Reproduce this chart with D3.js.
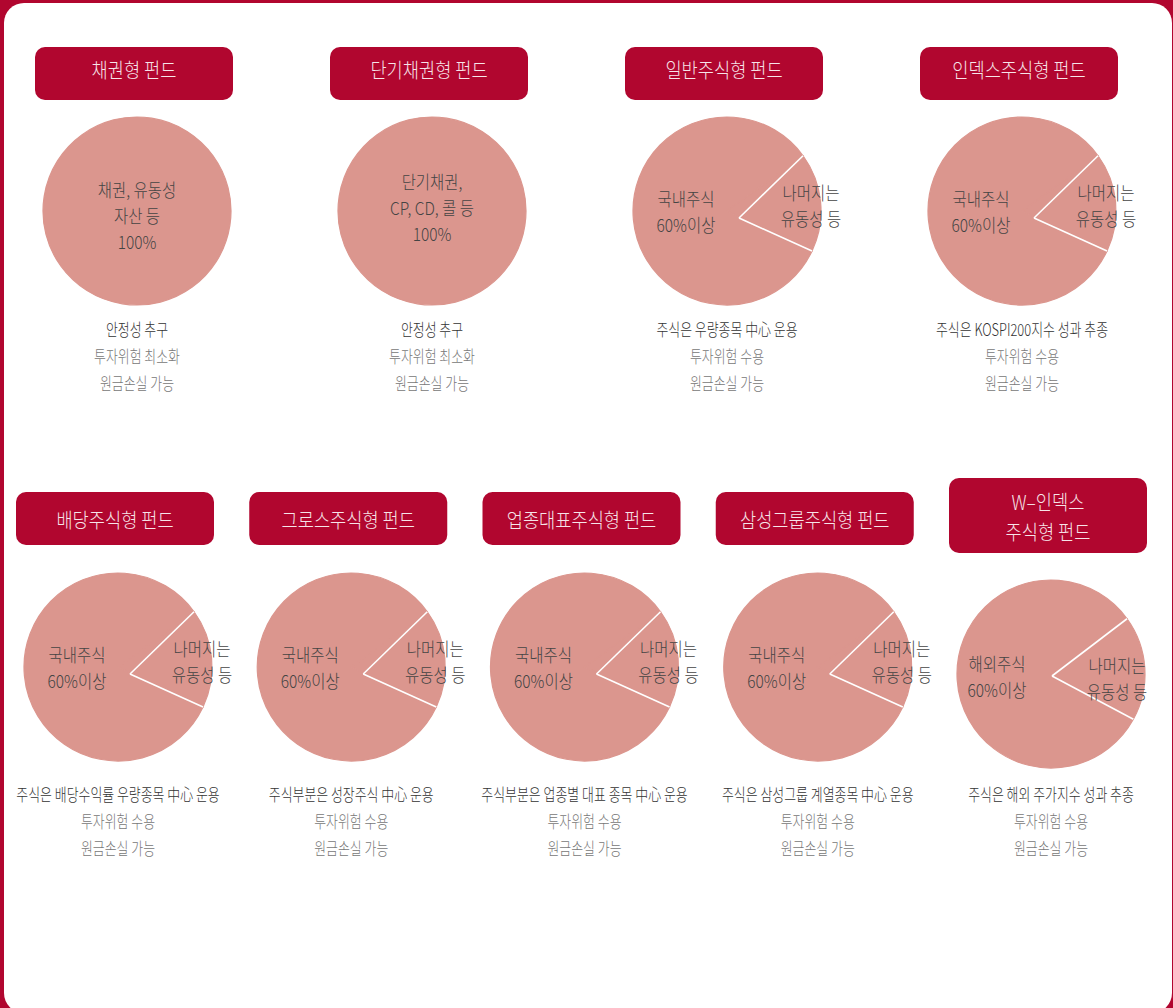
<!DOCTYPE html>
<html>
<head>
<meta charset="utf-8">
<script src="https://cdn.jsdelivr.net/npm/d3@7"></script>
<style>
  html, body { margin: 0; padding: 0; background: #b1062f; }
  svg { display: block; }
  text { font-family: "Noto Sans CJK KR", "Noto Sans", sans-serif; font-weight: 300; }
</style>
</head>
<body>
<svg id="chart" width="1173" height="1008"></svg>
<script>
// fund names (title boxes), one entry per line
const titles = [
  ['채권형 펀드'], ['단기채권형 펀드'], ['일반주식형 펀드'], ['인덱스주식형 펀드'],
  ['배당주식형 펀드'], ['그로스주식형 펀드'], ['업종대표주식형 펀드'], ['삼성그룹주식형 펀드'],
  ['W–인덱스', '주식형 펀드']
];
// share of the main asset vs the rest (as drawn)
const mainShare = [100, 100, 83, 83, 83, 83, 83, 83, 82];
const restShare = [0, 0, 17, 17, 17, 17, 17, 17, 18];
const mainLabels = [
  ['채권, 유동성', '자산 등', '100%'],
  ['단기채권,', 'CP, CD, 콜 등', '100%'],
  ['국내주식', '60%이상'], ['국내주식', '60%이상'],
  ['국내주식', '60%이상'], ['국내주식', '60%이상'], ['국내주식', '60%이상'], ['국내주식', '60%이상'],
  ['해외주식', '60%이상']
];
const restLabels = [
  [], [],
  ['나머지는', '유동성 등'], ['나머지는', '유동성 등'],
  ['나머지는', '유동성 등'], ['나머지는', '유동성 등'], ['나머지는', '유동성 등'], ['나머지는', '유동성 등'],
  ['나머지는', '유동성 등']
];
const descMain = [
  '안정성 추구', '안정성 추구', '주식은 우량종목 中心 운용', '주식은 KOSPI200지수 성과 추종',
  '주식은 배당수익률 우량종목 中心 운용', '주식부분은 성장주식 中心 운용',
  '주식부분은 업종별 대표 종목 中心 운용', '주식은 삼성그룹 계열종목 中心 운용',
  '주식은 해외 주가지수 성과 추종'
];
const descRisk = [
  '투자위험 최소화', '투자위험 최소화', '투자위험 수용', '투자위험 수용',
  '투자위험 수용', '투자위험 수용', '투자위험 수용', '투자위험 수용', '투자위험 수용'
];
const descLoss = Array(9).fill('원금손실 가능');

const RED = '#b1062f', PINK = '#db968e';
const svg = d3.select('#chart');

svg.append('rect')
  .attr('x', 4).attr('y', 3).attr('width', 1168).attr('height', 1010)
  .attr('rx', 20).attr('fill', '#fff');

const row1 = d3.range(0, 4), row2 = d3.range(4, 9);
const x1 = d3.scalePoint().domain(row1).range([137, 1022]);
const x2 = d3.scalePoint().domain(row2).range([118, 1051]);

const rows = [
  { idx: row1, x: x1, boxTop: 47, textShift: -5, cy: 211, desc: 328 },
  { idx: row2, x: x2, boxTop: 492, textShift: 0, cy: 667, desc: 793 }
];

const R = 94;
const restStart = 54 * Math.PI / 180;
const arc = d3.arc().innerRadius(0).outerRadius(R);
const pie = d3.pie().sort(null).startAngle(restStart).endAngle(restStart + 2 * Math.PI);

function label(g, str, x, y, size, color, sx) {
  g.append('text')
    .attr('transform', `translate(${x},${y}) scale(${sx},1)`)
    .attr('text-anchor', 'middle')
    .attr('dominant-baseline', 'central')
    .attr('font-size', size)
    .attr('fill', color)
    .text(str);
}

rows.forEach(row => {
  row.idx.forEach(i => {
    const cx = row.x(i);
    const nLines = titles[i].length;
    const g = svg.append('g');

    // title box
    const boxH = nLines > 1 ? 75 : 53;
    const boxTop = row.boxTop - (nLines - 1) * 14;
    g.append('rect')
      .attr('x', cx - 3 - 99).attr('y', boxTop)
      .attr('width', 198).attr('height', boxH)
      .attr('rx', 10).attr('fill', RED);
    const tMid = boxTop + boxH / 2 + (nLines > 1 ? 0 : row.textShift);
    titles[i].forEach((t, k) => {
      label(g, t, cx - 3, tMid + (k - (nLines - 1) / 2) * 30, 20, '#f7e4e9', 0.88);
    });

    // pie
    const cy = row.cy + (nLines - 1) * 7;
    const pg = g.append('g').attr('transform', `translate(${cx},${cy})`);
    const slices = pie([restShare[i], mainShare[i]]);
    pg.selectAll('path').data(slices).join('path')
      .attr('d', arc).attr('fill', PINK)
      .attr('stroke', PINK).attr('stroke-width', 1.2);

    // white dividers from the (slightly offset) vertex
    if (restShare[i] > 0) {
      const vx = nLines > 1 ? 1 : 12, vy = nLines > 1 ? 2 : 7;
      const rs = slices[0];
      [rs.startAngle, rs.endAngle].forEach(a => {
        const [px, py] = d3.pointRadial(a, R);
        pg.append('line')
          .attr('x1', vx).attr('y1', vy).attr('x2', px).attr('y2', py)
          .attr('stroke', '#fff').attr('stroke-width', 1.6);
      });
    }

    // labels inside pie
    const ml = mainLabels[i];
    if (ml.length === 3) {
      const off = i === 0 ? 4 : -4;
      ml.forEach((t, k) => label(pg, t, 0, off + (k - 1) * 26, 18, '#444', 0.86));
    } else {
      const mx = nLines > 1 ? -54 : -41, my = nLines > 1 ? 2 : 0;
      ml.forEach((t, k) => label(pg, t, mx, my + (k - 0.5) * 26, 18, '#444', 0.86));
      const rx = nLines > 1 ? 66 : 84, ry = nLines > 1 ? 4 : -6;
      restLabels[i].forEach((t, k) => label(pg, t, rx, ry + (k - 0.5) * 26, 18, '#444', 0.86));
    }

    // description lines under the pie
    label(g, descMain[i], cx, row.desc, 17, '#333', 0.76);
    label(g, descRisk[i], cx, row.desc + 27, 17, '#777', 0.76);
    label(g, descLoss[i], cx, row.desc + 54, 17, '#777', 0.76);
  });
});
</script>
</body>
</html>
